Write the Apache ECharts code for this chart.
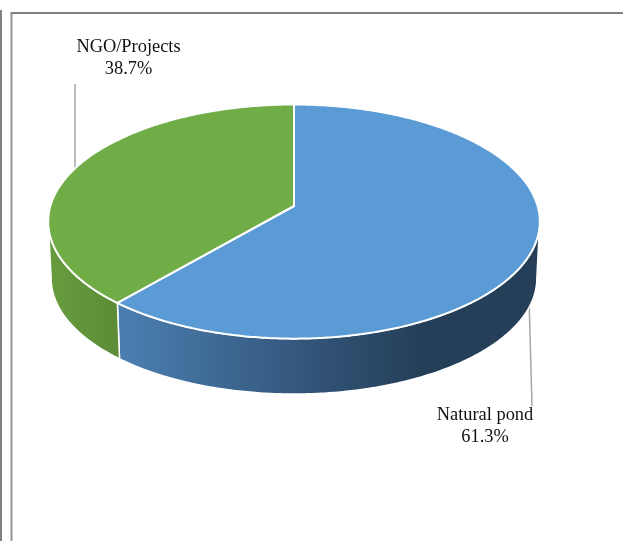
<!DOCTYPE html>
<html>
<head>
<meta charset="utf-8">
<style>html,body{margin:0;padding:0;background:#fff}#c{width:623px;height:541px}</style>
<script src="https://cdn.jsdelivr.net/npm/echarts@6/dist/echarts.min.js"></script>
</head>
<body>
<div id="c"></div>
<script>
const categories = ['Natural pond', 'NGO/Projects'];
const shares = [61.3, 38.7];

const topColors = ['#5B9BD5', '#70AD47'];
const sideStops = [
  [[0, '#4B80B2'], [0.45, '#33557A'], [0.72, '#243F57'], [1, '#243F57']],
  [[0, '#669C3E'], [1, '#5C8C36']]
];
const labelAt = [{ x: 485, y: 426.5 }, { x: 128.5, y: 58.5 }];
const leaders = [[[529, 298], [532, 406]], [[75, 84], [75, 170]]];

// Projected disc: apex, half-width, half-depth, perspective
const cx = 294, apexY = 206, X = 243.6, Y = 115, P = 0.133;
const depthY = 57, baseScale = 0.988;
const frontStart = Math.acos(-P), frontEnd = 2 * Math.PI - frontStart;
const total = shares.reduce((a, b) => a + b, 0);

function rim(theta, s, dy) {
  const d = 1 + P * Math.cos(theta);
  return [cx + s * X * Math.sin(theta) / d, apexY + dy - s * Y * Math.cos(theta) / d];
}
function arc(a, b, s, dy) {
  const out = [], n = Math.max(2, Math.ceil(Math.abs(b - a) / 0.01));
  for (let i = 0; i <= n; i++) out.push(rim(a + (b - a) * i / n, s, dy));
  return out;
}

function renderItem(params, api) {
  const i = params.dataIndex;
  let before = 0;
  for (let k = 0; k < i; k++) before += shares[k];
  const a0 = before / total * 2 * Math.PI;
  const a1 = (before + api.value(0)) / total * 2 * Math.PI;
  const children = [];

  children.push({
    type: 'polyline', z2: 1, silent: true,
    shape: { points: leaders[i] },
    style: { stroke: '#A6A6A6', lineWidth: 1.5, fill: null }
  });

  const s0 = Math.max(a0, frontStart), s1 = Math.min(a1, frontEnd);
  if (s1 > s0) {
    children.push({
      type: 'polygon', z2: 2,
      shape: { points: arc(s0, s1, 1, 0).concat(arc(s1, s0, baseScale, depthY)) },
      style: {
        fill: new echarts.graphic.LinearGradient(0, 0, 1, 0,
          sideStops[i].map(p => ({ offset: p[0], color: p[1] }))),
        stroke: '#fff', lineWidth: 1.5, lineJoin: 'round'
      }
    });
  }

  children.push({
    type: 'polygon', z2: 3,
    shape: { points: [[cx, apexY]].concat(arc(a0, a1, 1, 0)) },
    style: { fill: topColors[i], stroke: '#fff', lineWidth: 2, lineJoin: 'round' }
  });

  children.push({
    type: 'text', z2: 4,
    x: labelAt[i].x, y: labelAt[i].y,
    style: {
      text: categories[i] + '\n' + api.value(0).toFixed(1) + '%',
      font: '18.4px "Liberation Serif", serif',
      lineHeight: 22,
      fill: '#111',
      align: 'center',
      verticalAlign: 'middle'
    }
  });
  return { type: 'group', children };
}

const chart = echarts.init(document.getElementById('c'), null, { renderer: 'canvas' });
chart.setOption({
  backgroundColor: '#fff',
  animation: false,
  graphic: [
    { type: 'line', silent: true, shape: { x1: 1, y1: 10, x2: 1, y2: 541 }, style: { stroke: '#808080', lineWidth: 2 } },
    { type: 'line', silent: true, shape: { x1: 10.5, y1: 13, x2: 623, y2: 13 }, style: { stroke: '#808080', lineWidth: 2 } },
    { type: 'line', silent: true, shape: { x1: 11.5, y1: 13, x2: 11.5, y2: 541 }, style: { stroke: '#969696', lineWidth: 2 } }
  ],
  series: [{
    type: 'custom',
    coordinateSystem: 'none',
    renderItem,
    data: shares.map((v, i) => ({ name: categories[i], value: [v] }))
  }]
});
</script>
</body>
</html>
